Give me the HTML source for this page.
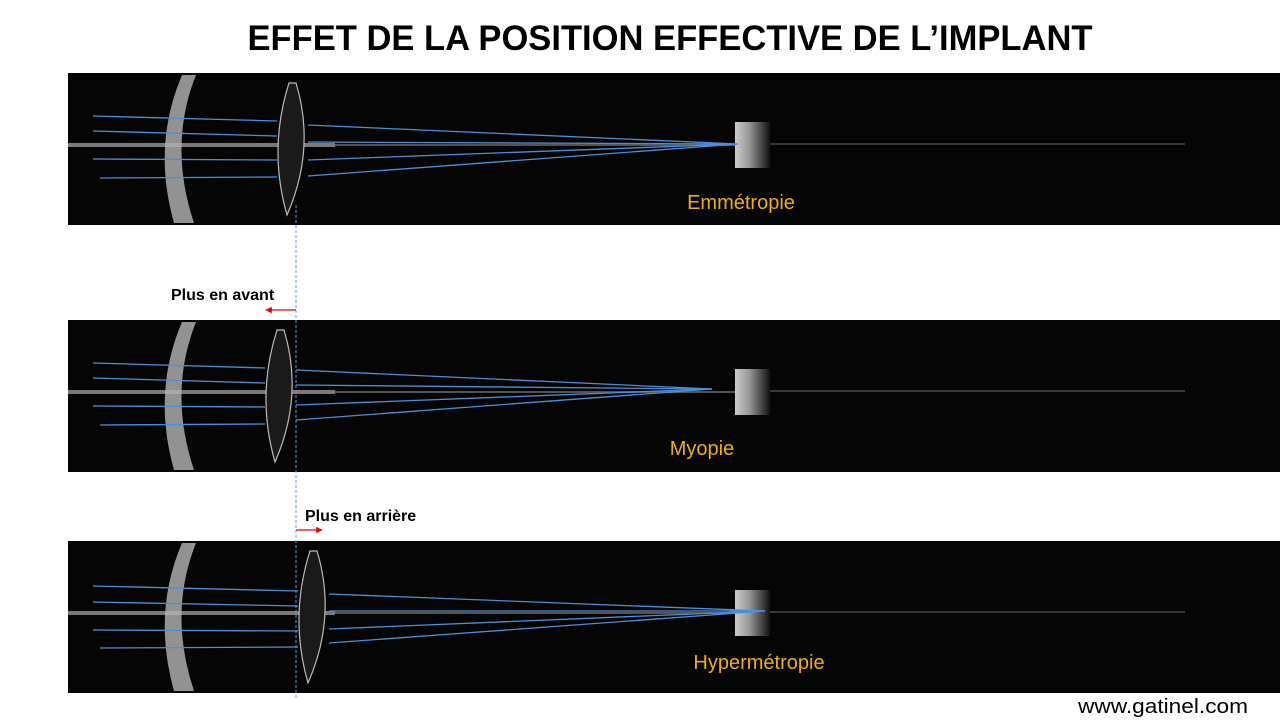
<!DOCTYPE html>
<html><head><meta charset="utf-8"><style>
html,body{margin:0;padding:0;background:#fff;}
svg{display:block;font-family:"Liberation Sans",sans-serif;}
</style></head><body>
<svg width="1280" height="720" viewBox="0 0 1280 720" xmlns="http://www.w3.org/2000/svg">
<defs>
<linearGradient id="ret" x1="0" x2="1" y1="0" y2="0">
<stop offset="0" stop-color="#ccc"/><stop offset="0.4" stop-color="#999"/><stop offset="1" stop-color="#111"/>
</linearGradient>
<marker id="ar" viewBox="0 0 10 10" refX="9" refY="5" markerWidth="5" markerHeight="5" orient="auto"><path d="M0,0L10,5L0,10Z" fill="#e00"/></marker>
<g id="lens"><path d="M289,10 Q268,76 287,142 Q316,76 296,10 Z" fill="#1a1a1a" stroke="#bbb" stroke-width="1.2"/></g>
<g id="base">
<rect x="68" y="0" width="1212" height="152" fill="#050505"/>
<line x1="68" y1="72" x2="335" y2="72" stroke="#aaa" stroke-width="4" opacity="0.7"/>
<line x1="335" y1="72" x2="735" y2="72" stroke="#888" stroke-width="2" opacity="0.6"/>
<line x1="770" y1="71" x2="1185" y2="71" stroke="#777" stroke-width="1.5" opacity="0.6"/>
<path d="M182,2 Q152,72 174,150 L194,150 Q168,72 196,2 Z" fill="#b5b5b5" opacity="0.8"/>
<rect x="735" y="49" width="35" height="46" fill="url(#ret)"/>
</g>
</defs>
<text x="670" y="50" text-anchor="middle" font-size="35" font-weight="bold" textLength="845" lengthAdjust="spacingAndGlyphs">EFFET DE LA POSITION EFFECTIVE DE L’IMPLANT</text>

<g transform="translate(0,73)">
<use href="#base"/>
<use href="#lens"/>
<g stroke="#4a90d9" stroke-width="1.3" fill="none">
<polyline points="93,43 277,48"/><polyline points="93,58 277,63"/><polyline points="93,86 277,87"/><polyline points="100,105 277,104"/>
<polyline points="308,52 738,71"/><polyline points="308,69 738,71"/><polyline points="308,87 738,71"/><polyline points="308,103 738,71"/>
</g>
<text x="741" y="136" text-anchor="middle" font-size="20" fill="#f0b000">Emmétropie</text>
</g>

<g transform="translate(0,320)">
<use href="#base"/>
<use href="#lens" transform="translate(-12,0)"/>
<g stroke="#4a90d9" stroke-width="1.3" fill="none">
<polyline points="93,43 265,48"/><polyline points="93,58 265,63"/><polyline points="93,86 265,87"/><polyline points="100,105 265,104"/>
<polyline points="296,50 712,69"/><polyline points="296,65 712,69"/><polyline points="296,85 712,69"/><polyline points="296,100 712,69"/>
</g>
<text x="702" y="135" text-anchor="middle" font-size="20" fill="#f0b000">Myopie</text>
</g>

<g transform="translate(0,541)">
<use href="#base"/>
<use href="#lens" transform="translate(21,0)"/>
<g stroke="#4a90d9" stroke-width="1.3" fill="none">
<polyline points="93,45 298,50"/><polyline points="93,61 298,65"/><polyline points="93,89 298,90"/><polyline points="100,107 298,106"/>
<polyline points="329,53 765,70"/><polyline points="329,70 765,70"/><polyline points="329,88 765,70"/><polyline points="329,102 765,70"/>
</g>
<text x="759" y="128" text-anchor="middle" font-size="20" fill="#f0b000">Hypermétropie</text>
</g>

<line x1="296" y1="205" x2="296" y2="700" stroke="#5b9bd5" stroke-width="1" stroke-dasharray="3,2"/>
<text x="171" y="300" font-size="16" font-weight="bold" fill="#000">Plus en avant</text>
<line x1="296" y1="310" x2="266" y2="310" stroke="#e00" stroke-width="1.3" marker-end="url(#ar)"/>
<text x="305" y="521" font-size="16" font-weight="bold" fill="#000">Plus en arrière</text>
<line x1="296" y1="530" x2="322" y2="530" stroke="#e00" stroke-width="1.3" marker-end="url(#ar)"/>
<text x="1248" y="713" text-anchor="end" font-size="20" fill="#000" textLength="170" lengthAdjust="spacingAndGlyphs">www.gatinel.com</text>
</svg>
</body></html>
